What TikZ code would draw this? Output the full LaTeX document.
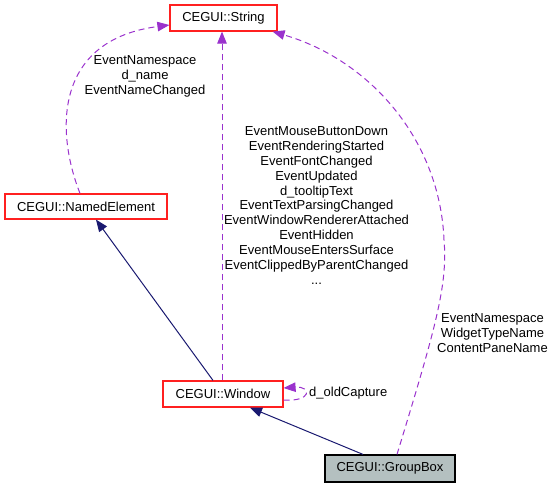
\documentclass[tikz,border=0pt]{standalone}
\usepackage{fontspec}
\setmainfont{Liberation Sans}
\usetikzlibrary{arrows.meta}
\definecolor{depc}{HTML}{9A32CD}
\definecolor{inhc}{HTML}{191970}
\definecolor{boxred}{HTML}{FF2020}
\definecolor{gbfill}{HTML}{B4C0C0}
\tikzset{
  cls/.style={draw=boxred, line width=1.2pt, minimum height=26pt, inner sep=0pt,
    font=\fontsize{13}{15}\selectfont, text=black},
  cur/.style={draw=black, fill=gbfill, line width=1.2pt, minimum height=27pt, inner sep=0pt,
    font=\fontsize{13}{15}\selectfont, text=black},
  lbl/.style={align=center, inner sep=0pt, font=\fontsize{13}{14.9}\selectfont, text=black},
  depe/.style={draw=depc, line width=1pt, dash pattern=on 6pt off 4pt,
    -{Triangle[length=12pt,width=9.5pt,fill=depc]}},
  inhe/.style={draw=inhc, line width=1pt, -{Triangle[length=12pt,width=9.5pt,fill=inhc]}}
}
\begin{document}
\begin{tikzpicture}[x=1pt,y=-1pt]
\useasboundingbox (0,0) rectangle (555,491);
\node[cls, minimum width=107pt] (str) at (223.5,18) {CEGUI::String};
\node[cls, minimum width=162pt, minimum height=25pt] (ne) at (86,206.5) {CEGUI::NamedElement};
\node[cls, minimum width=120pt] (win) at (223,394) {CEGUI::Window};
\node[cur, minimum width=130pt] (gb) at (390,468.5) {CEGUI::GroupBox};
\coordinate (gbmid) at (444,240);

\draw[depe] ([xshift=-6pt]ne.north) .. controls (55,130) and (55,40) .. ([yshift=-7pt]str.west);
\draw[depe] ([xshift=-1pt]win.north) -- ([xshift=-1.5pt]str.south);
\draw[depe] ([xshift=7pt]gb.north) .. controls (435,330) and (448,285) .. (gbmid)
  .. controls (440,140) and (370,60) .. ([xshift=-5pt]str.south east);
\draw[depe] ([yshift=-6pt]win.east) .. controls (312,402) and (312,386) .. ([yshift=6pt]win.east);

\draw[inhe] ([xshift=-10pt]win.north) -- ([xshift=10pt]ne.south);
\draw[inhe] ([xshift=-27pt]gb.north) -- ([xshift=27pt]win.south);

\node[lbl] (l1) at (145,76.5) {EventNamespace\\d\_name\\EventNameChanged};
\node[lbl] (l2) at (316.5,205.5) {EventMouseButtonDown\\EventRenderingStarted\\EventFontChanged\\EventUpdated\\d\_tooltipText\\EventTextParsingChanged\\EventWindowRendererAttached\\EventHidden\\EventMouseEntersSurface\\EventClippedByParentChanged\\...};
\node[lbl] (l3) at (492.5,333) {EventNamespace\\WidgetTypeName\\ContentPaneName};
\node[lbl, anchor=west] (l4) at (309,393) {d\_oldCapture};
\end{tikzpicture}
\end{document}
